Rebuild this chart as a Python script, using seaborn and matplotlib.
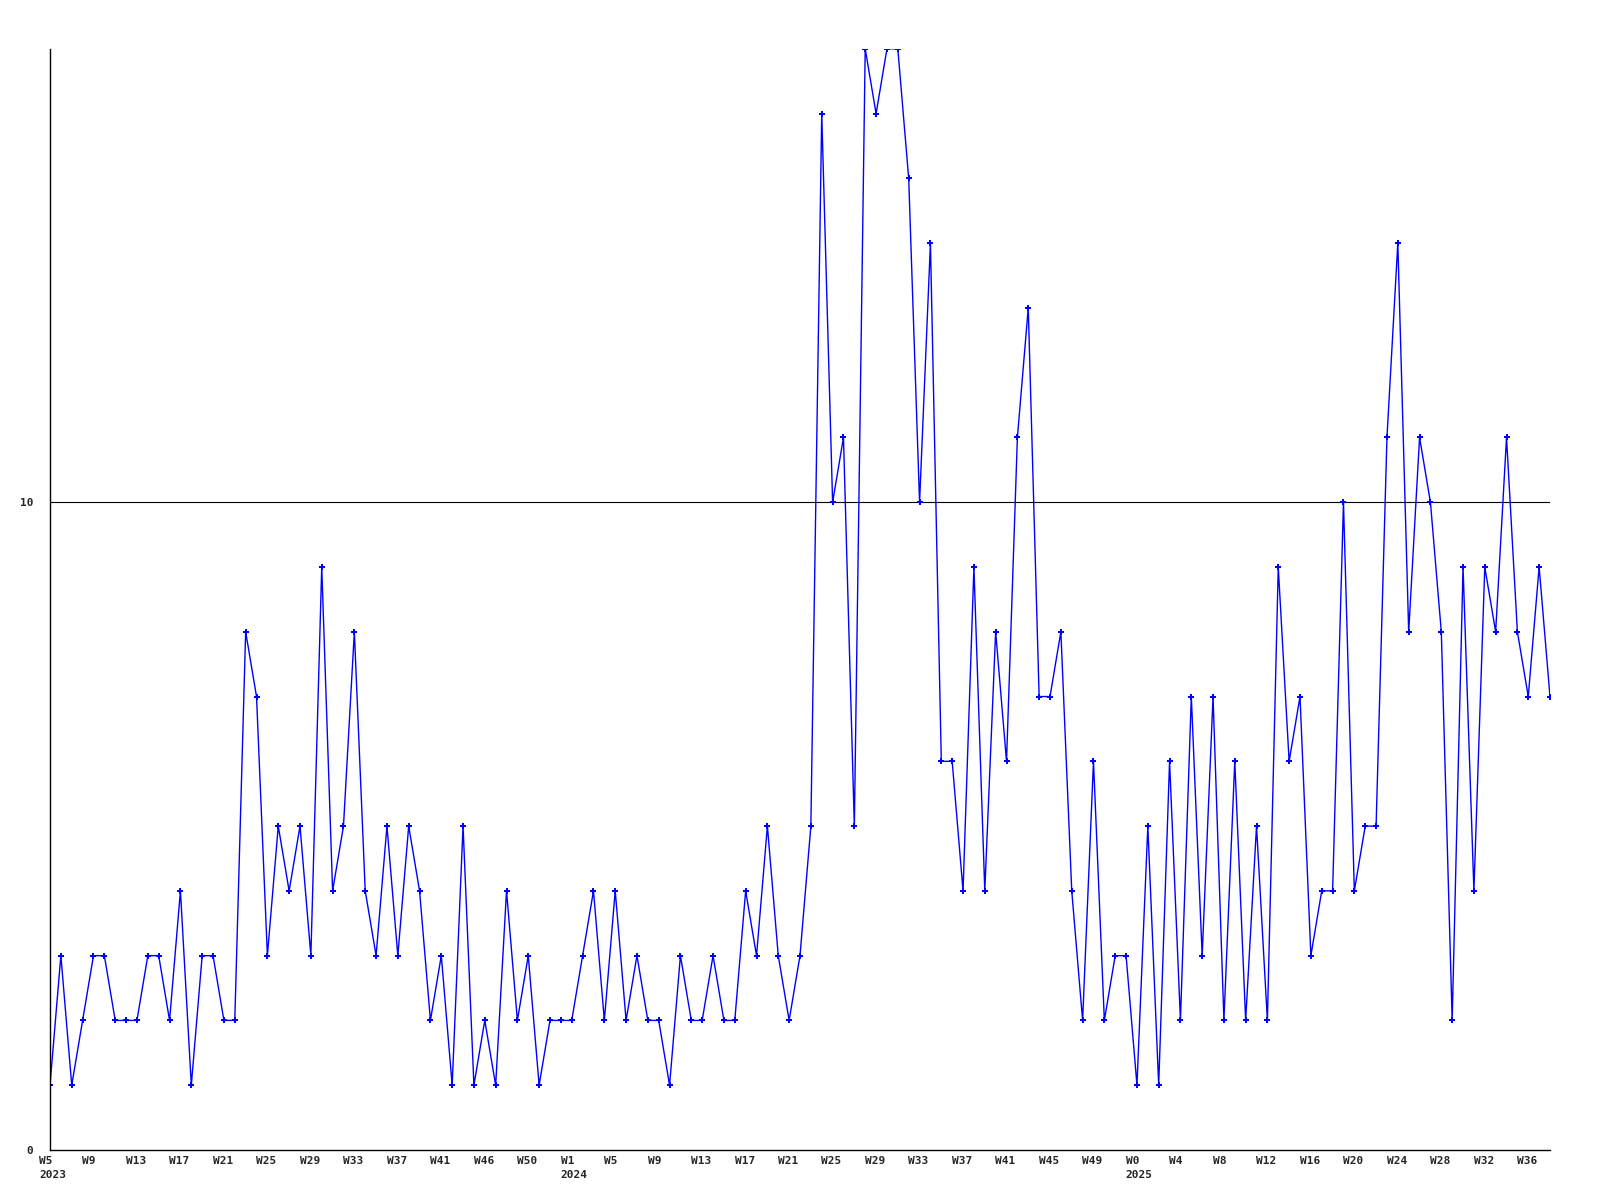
import matplotlib
matplotlib.use("Agg")
import matplotlib.pyplot as plt
import seaborn as sns
import numpy as np

# weekly counts, W5 2023 .. W38 2025
counts = [1, 3, 1, 2, 3, 3, 2, 2, 2, 3, 3, 2, 4, 1, 3, 3, 2, 2, 8, 7,
          3, 5, 4, 5, 3, 9, 4, 5, 8, 4, 3, 5, 3, 5, 4, 2, 3, 1, 5, 1,
          2, 1, 4, 2, 3, 1, 2, 2, 2, 3, 4, 2, 4, 2, 3, 2, 2, 1, 3, 2,
          2, 3, 2, 2, 4, 3, 5, 3, 2, 3, 5, 16, 10, 11, 5, 17, 16, 17, 17, 15,
          10, 14, 6, 6, 4, 9, 4, 8, 6, 11, 13, 7, 7, 8, 4, 2, 6, 2, 3, 3,
          1, 5, 1, 6, 2, 7, 3, 7, 2, 6, 2, 5, 2, 9, 6, 7, 3, 4, 4, 10,
          4, 5, 5, 11, 14, 8, 11, 10, 8, 2, 9, 4, 9, 8, 11, 8, 7, 9, 7]

week_labels = ["W5", "W9", "W13", "W17", "W21", "W25", "W29", "W33", "W37", "W41", "W46", "W50",
               "W1", "W5", "W9", "W13", "W17", "W21", "W25", "W29", "W33", "W37", "W41", "W45", "W49",
               "W0", "W4", "W8", "W12", "W16", "W20", "W24", "W28", "W32", "W36"]
year_labels = {0: "2023", 12: "2024", 25: "2025"}
tick_step = 4

sns.set_style("white")
plt.rcParams['font.family'] = ['DejaVu Sans Mono', 'DejaVu Sans']

fig = plt.figure(figsize=(16, 12), dpi=100)
ax = fig.add_axes([0.03125, 0.0417, 0.9375, 0.9176])

x = np.arange(len(counts))
sns.lineplot(x=x, y=counts, ax=ax, color="#0000ff", linewidth=1.0,
             marker="P", markersize=4.5, markeredgewidth=0, clip_on=True)
ax.axhline(10, color="black", linewidth=0.8, zorder=1)

ax.set_xlim(0, len(counts) - 1)
ax.set_ylim(0, 17)

# week / year labels, left aligned slightly before each tick
ax.set_xticks([])
for i, w in enumerate(week_labels):
    txt = w + ("\n" + year_labels[i] if i in year_labels else "")
    ax.annotate(txt, xy=(i * tick_step, 0), xycoords=("data", "axes fraction"),
                xytext=(-8, -4), textcoords="offset points", ha="left", va="top",
                fontsize=8, fontweight="bold", linespacing=1.5, annotation_clip=False)

ax.set_yticks([0, 10])
ax.set_yticklabels(["0", "10"], fontsize=8, fontweight="bold")
ax.tick_params(axis="both", length=0)
ax.tick_params(axis="y", pad=12)

for side in ["top", "right"]:
    ax.spines[side].set_visible(False)
for side in ["left", "bottom"]:
    ax.spines[side].set_color("black")
    ax.spines[side].set_linewidth(1.0)

plt.savefig("out.png", dpi=100, facecolor="white")
